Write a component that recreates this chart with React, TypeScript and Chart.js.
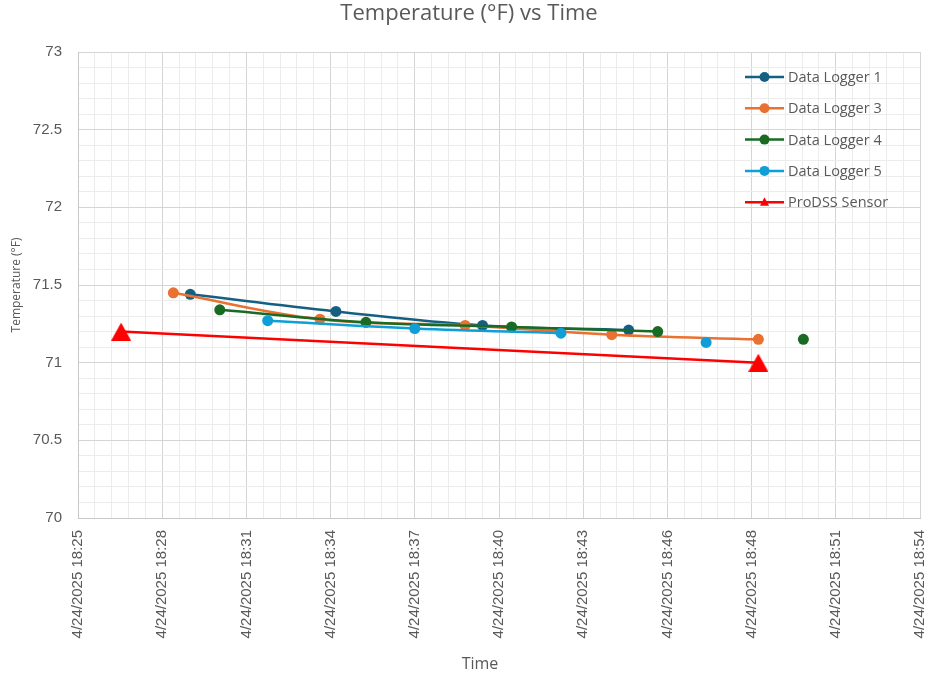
import { useEffect, useRef } from "react";
import { Chart, registerables } from "chart.js";

Chart.register(...registerables);

const chartTitle = "Temperature (°F) vs Time";
const xAxisTitle = "Time";
const yAxisTitle = "Temperature (°F)";

// Time axis in minutes of the day; a major gridline every 2.9 minutes
const xAxisStart = 18 * 60 + 25.25;
const xMajorStep = 2.9;
const xMinorPerMajor = 5;
const xTickLabels = [
  "4/24/2025 18:25",
  "4/24/2025 18:28",
  "4/24/2025 18:31",
  "4/24/2025 18:34",
  "4/24/2025 18:37",
  "4/24/2025 18:40",
  "4/24/2025 18:43",
  "4/24/2025 18:46",
  "4/24/2025 18:48",
  "4/24/2025 18:51",
  "4/24/2025 18:54",
];

const yMin = 70;
const yMajorStep = 0.5;
const yMinorPerMajor = 5;
const yTickLabels = ["70", "70.5", "71", "71.5", "72", "72.5", "73"];

// Readings (null = blank reading, breaks the line)
const logger1Times = ["18:29:07", "18:34:08", "18:39:11", "18:44:13"];
const logger1Temps = [71.44, 71.33, 71.24, 71.21];

const logger3Times = ["18:28:32", "18:33:35", "18:38:35", "18:43:38", "18:48:41"];
const logger3Temps = [71.45, 71.28, 71.24, 71.18, 71.15];

const logger4Times = ["18:30:08", "18:35:10", "18:40:11", "18:45:13", "18:47:44", "18:50:14"];
const logger4Temps = [71.34, 71.26, 71.23, 71.2, null, 71.15];

const logger5Times = ["18:31:47", "18:36:51", "18:41:53", "18:44:22", "18:46:53"];
const logger5Temps = [71.27, 71.22, 71.19, null, 71.13];

const prodssTimes = ["18:26:44", "18:48:41"];
const prodssTemps = [71.2, 71.0];

const seriesNames = ["Data Logger 1", "Data Logger 3", "Data Logger 4", "Data Logger 5", "ProDSS Sensor"];
const seriesColors = ["#156082", "#E97132", "#196B24", "#0F9ED5", "#FF0000"];

const TEXT_COLOR = "#595959";
const MAJOR_GRID = "#D5D5D5";
const MINOR_GRID = "#ECECEC";
const UI_FONT = "'Open Sans', 'Noto Sans', sans-serif";
const TICK_FONT = "'Liberation Sans', Arial, sans-serif";

function toMinutes(t: string): number {
  const [h, m, s] = t.split(":").map(Number);
  return h * 60 + m + s / 60;
}

function toPoints(times: string[], temps: (number | null)[]) {
  return times.map((t, i) => ({ x: toMinutes(t), y: temps[i] }));
}

function makeTriangle(w: number, h: number, color: string): HTMLCanvasElement {
  const c = document.createElement("canvas");
  c.width = w;
  c.height = h;
  const g = c.getContext("2d")!;
  g.fillStyle = color;
  g.beginPath();
  g.moveTo(w / 2, 0);
  g.lineTo(w, h);
  g.lineTo(0, h);
  g.closePath();
  g.fill();
  return c;
}

const decorations = {
  id: "decorations",
  beforeDraw(chart: any) {
    const { ctx, width, height } = chart;
    ctx.save();
    ctx.fillStyle = "#FFFFFF";
    ctx.fillRect(0, 0, width, height);
    ctx.restore();
  },
  afterDraw(chart: any) {
    const { ctx, chartArea } = chart;
    ctx.save();
    ctx.fillStyle = TEXT_COLOR;

    // Title
    ctx.font = `22px ${UI_FONT}`;
    ctx.textAlign = "center";
    ctx.textBaseline = "middle";
    ctx.fillText(chartTitle, 469, 14);

    // Axis titles
    ctx.font = `16px ${UI_FONT}`;
    ctx.fillText(xAxisTitle, 480, 664);

    ctx.save();
    ctx.translate(17, (chartArea.top + chartArea.bottom) / 2);
    ctx.rotate(-Math.PI / 2);
    ctx.font = `12px ${UI_FONT}`;
    ctx.fillText(yAxisTitle, 0, 0);
    ctx.restore();

    // Legend inside the plot, top right
    const lx = chartArea.right - 175;
    const ly = chartArea.top + 25;
    const step = 31.3;
    seriesNames.forEach((name, i) => {
      const y = ly + i * step;
      const color = seriesColors[i];
      ctx.strokeStyle = color;
      ctx.lineWidth = 2.5;
      ctx.beginPath();
      ctx.moveTo(lx, y);
      ctx.lineTo(lx + 39, y);
      ctx.stroke();
      ctx.fillStyle = color;
      ctx.beginPath();
      if (i === seriesNames.length - 1) {
        ctx.moveTo(lx + 19.5, y - 5);
        ctx.lineTo(lx + 24, y + 3.5);
        ctx.lineTo(lx + 15, y + 3.5);
        ctx.closePath();
      } else {
        ctx.arc(lx + 19.5, y, 5, 0, Math.PI * 2);
      }
      ctx.fill();
      ctx.fillStyle = TEXT_COLOR;
      ctx.font = `14.5px ${UI_FONT}`;
      ctx.textAlign = "left";
      ctx.textBaseline = "middle";
      ctx.fillText(name, lx + 43, y + 1);
    });
    ctx.restore();
  },
};

export default function App() {
  const canvasRef = useRef<HTMLCanvasElement | null>(null);

  useEffect(() => {
    if (!canvasRef.current) return;
    const triangle = makeTriangle(20, 18, seriesColors[4]);

    const seriesData = [
      toPoints(logger1Times, logger1Temps),
      toPoints(logger3Times, logger3Temps),
      toPoints(logger4Times, logger4Temps),
      toPoints(logger5Times, logger5Temps),
      toPoints(prodssTimes, prodssTemps),
    ];

    const datasets = seriesData.map((data, i) => {
      const isSensor = i === 4;
      return {
        label: seriesNames[i],
        data,
        borderColor: seriesColors[i],
        backgroundColor: seriesColors[i],
        borderWidth: 2.5,
        showLine: true,
        spanGaps: false,
        tension: isSensor ? 0 : 0.4,
        pointStyle: isSensor ? triangle : "circle",
        pointRadius: isSensor ? 10 : 5.5,
        pointBorderWidth: 0,
        pointHoverRadius: isSensor ? 10 : 5.5,
        order: seriesNames.length - i,
      };
    });

    const xTicksCount = (xTickLabels.length - 1) * xMinorPerMajor;
    const yTicksCount = (yTickLabels.length - 1) * yMinorPerMajor;
    const xMax = xAxisStart + (xTickLabels.length - 1) * xMajorStep;
    const yMax = yMin + (yTickLabels.length - 1) * yMajorStep;

    const chart = new Chart(canvasRef.current, {
      type: "scatter",
      data: { datasets: datasets as any },
      plugins: [decorations],
      options: {
        responsive: false,
        animation: false,
        devicePixelRatio: 1,
        layout: { padding: { top: 52, right: 8, bottom: 0, left: 0 } },
        plugins: {
          legend: { display: false },
          title: { display: false },
          tooltip: { enabled: false },
        },
        scales: {
          x: {
            type: "linear",
            min: xAxisStart,
            max: xMax,
            afterBuildTicks: (scale: any) => {
              const ticks = [];
              for (let k = 0; k <= xTicksCount; k++) {
                ticks.push({ value: xAxisStart + (k * xMajorStep) / xMinorPerMajor });
              }
              scale.ticks = ticks;
            },
            afterFit: (scale: any) => {
              scale.height = 158;
              scale.paddingLeft = 0;
              scale.paddingRight = 0;
            },
            grid: {
              color: (c: any) => (c.index % xMinorPerMajor === 0 ? MAJOR_GRID : MINOR_GRID),
              lineWidth: 1,
              drawTicks: false,
            },
            border: { display: true, color: "#C8C8C8", width: 1 },
            ticks: {
              autoSkip: false,
              minRotation: 90,
              maxRotation: 90,
              padding: 12,
              color: TEXT_COLOR,
              font: { family: TICK_FONT, size: 15 },
              callback: (_v: any, index: number) =>
                index % xMinorPerMajor === 0 ? xTickLabels[index / xMinorPerMajor] : "",
            },
          },
          y: {
            type: "linear",
            min: yMin,
            max: yMax,
            afterBuildTicks: (scale: any) => {
              const ticks = [];
              for (let k = 0; k <= yTicksCount; k++) {
                ticks.push({ value: yMin + (k * yMajorStep) / yMinorPerMajor });
              }
              scale.ticks = ticks;
            },
            afterFit: (scale: any) => {
              scale.width = 78;
              scale.paddingTop = 0;
              scale.paddingBottom = 0;
            },
            grid: {
              color: (c: any) => (c.index % yMinorPerMajor === 0 ? MAJOR_GRID : MINOR_GRID),
              lineWidth: 1,
              drawTicks: false,
            },
            border: { display: true, color: "#C8C8C8", width: 1 },
            ticks: {
              autoSkip: false,
              padding: 16,
              color: TEXT_COLOR,
              font: { family: TICK_FONT, size: 15 },
              callback: (_v: any, index: number) =>
                index % yMinorPerMajor === 0 ? yTickLabels[index / yMinorPerMajor] : "",
            },
          },
        },
      },
    });

    return () => chart.destroy();
  }, []);

  return (
    <div style={{ position: "fixed", left: 0, top: 0, width: 930, height: 676, background: "#FFFFFF" }}>
      <canvas ref={canvasRef} width={930} height={676} style={{ display: "block" }} />
    </div>
  );
}
